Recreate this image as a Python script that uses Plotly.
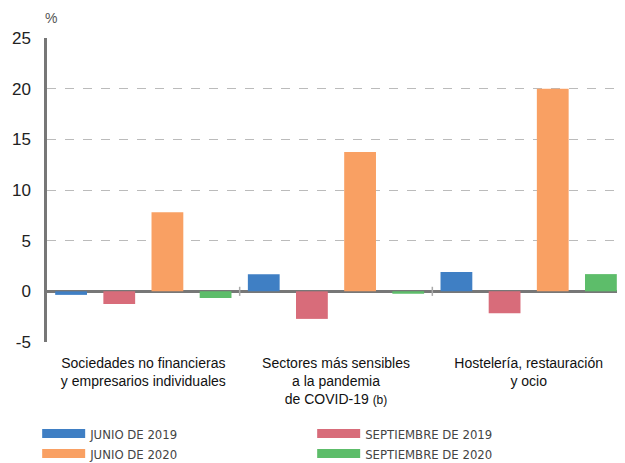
import plotly.graph_objects as go

categories = [
    "Sociedades no financieras<br>y empresarios individuales",
    "Sectores más sensibles<br>a la pandemia<br>de COVID-19 <span style='font-size:12px'>(b)</span>",
    "Hostelería, restauración<br>y ocio",
]
series_names = ["JUNIO DE 2019", "SEPTIEMBRE DE 2019", "JUNIO DE 2020", "SEPTIEMBRE DE 2020"]
junio_2019 = [-0.35, 1.68, 1.9]
septiembre_2019 = [-1.25, -2.72, -2.17]
junio_2020 = [7.8, 13.75, 20.0]
septiembre_2020 = [-0.66, -0.23, 1.7]
y_ticks = [-5, 0, 5, 10, 15, 20, 25]
y_tick_labels = ["-5", "0", "5", "10", "15", "20", "25"]

colors = ["#3F7FC4", "#D86C7A", "#F9A063", "#5DBD6A"]
values = [junio_2019, septiembre_2019, junio_2020, septiembre_2020]

fig = go.Figure()
for name, vals, col in zip(series_names, values, colors):
    fig.add_trace(go.Bar(x=categories, y=vals, name=name, marker=dict(color=col, line=dict(width=0)),
                         showlegend=False, legendgroup=name))
# legend entries with wide swatches
for name, col in zip(series_names, colors):
    fig.add_trace(go.Scatter(x=[None], y=[None], mode="lines", name=name,
                             line=dict(color=col, width=9), legendgroup=name, showlegend=True))

# category boundary ticks on zero line
for b in [0.5, 1.5]:
    fig.add_shape(type="line", xref="x", yref="y", x0=b, x1=b, y0=-0.45, y1=0.45,
                  line=dict(color="#AAAAAA", width=1.5))

fig.add_annotation(text="%", xref="paper", yref="paper", x=0.0, y=1.0, xanchor="center",
                   yanchor="bottom", yshift=10, xshift=4, showarrow=False,
                   font=dict(size=14, color="#555555"))

# page body has an 8px default margin, so the figure is drawn 8px in from the top-left
fig.update_layout(
    width=617, height=455,
    margin=dict(l=39, r=0, t=30, b=121, autoexpand=False),
    paper_bgcolor="white", plot_bgcolor="white",
    barmode="group", bargap=0.0, bargroupgap=0.34,
    font=dict(family="Liberation Sans, Arial, sans-serif", color="#111111"),
    xaxis=dict(range=[-0.5, 2.5], showgrid=False, showline=False, ticks="", automargin=False,
               tickfont=dict(size=14, color="#111111"), ticklabelstandoff=11, fixedrange=True),
    yaxis=dict(range=[-5, 25], tickvals=y_ticks, ticktext=y_tick_labels, automargin=False,
               showgrid=True, gridcolor="#BBBBBB",
               griddash="dash", gridwidth=1, zeroline=True, zerolinecolor="#777777",
               zerolinewidth=2.5, showline=True, linecolor="#777777", linewidth=2.5,
               ticks="", ticklabelstandoff=10, tickfont=dict(size=17, color="#222222")),
    legend=dict(orientation="h", x=-0.017, y=-0.252, xanchor="left", yanchor="top",
                entrywidth=217, entrywidthmode="pixels", itemwidth=43, tracegroupgap=0,
                font=dict(family="Liberation Sans Narrow, DejaVu Sans Condensed, Arial Narrow, sans-serif",
                          size=13, color="#444444")),
)

fig.write_html("out.html")
